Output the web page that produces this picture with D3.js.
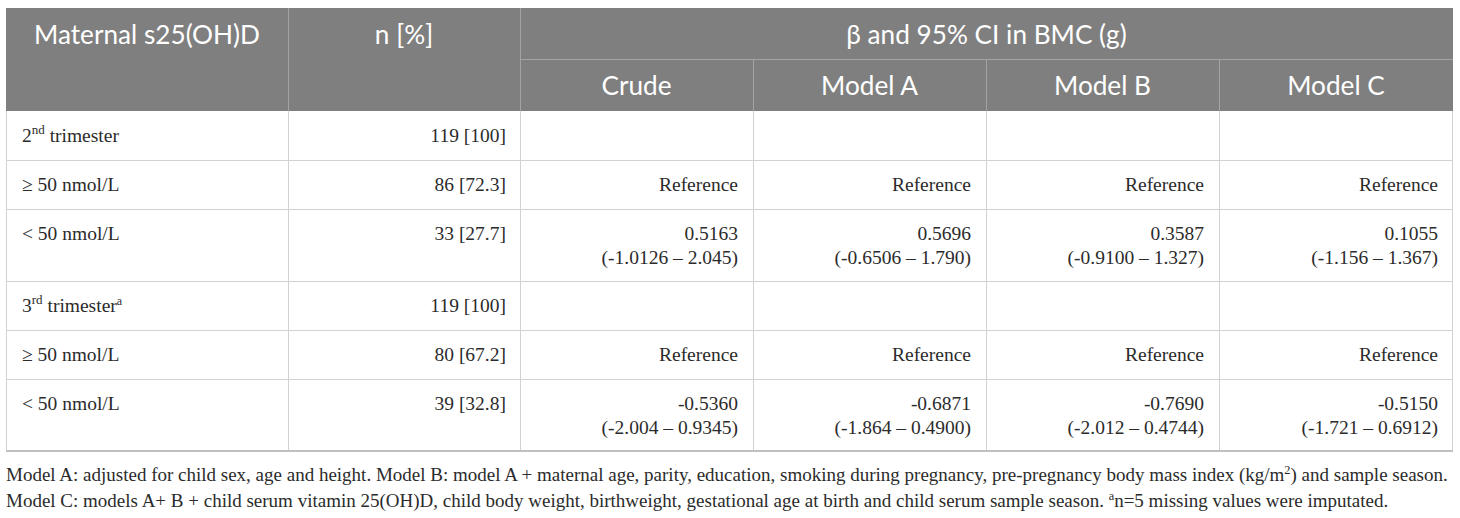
<!DOCTYPE html>
<html>
<head>
<meta charset="utf-8">
<script src="https://cdn.jsdelivr.net/npm/d3@7"></script>
<style>
  body { margin: 0; background: #fff; }
  svg { display: block; }
</style>
</head>
<body>
<svg id="table" width="1460" height="518"></svg>
<script>
// Table values
const rowLabels = [
  {main: "2", sup: "nd", rest: " trimester", tail: ""},
  {main: "\u2265 50 nmol/L"},
  {main: "< 50 nmol/L"},
  {main: "3", sup: "rd", rest: " trimester", tail: "a"},
  {main: "\u2265 50 nmol/L"},
  {main: "< 50 nmol/L"}
];
const nPercent = ["119 [100]", "86 [72.3]", "33 [27.7]", "119 [100]", "80 [67.2]", "39 [32.8]"];
const models = ["Crude", "Model A", "Model B", "Model C"];
// beta per row, per model ("" = empty cell)
const betaCrude  = ["", "Reference", "0.5163",  "", "Reference", "-0.5360"];
const betaModelA = ["", "Reference", "0.5696",  "", "Reference", "-0.6871"];
const betaModelB = ["", "Reference", "0.3587",  "", "Reference", "-0.7690"];
const betaModelC = ["", "Reference", "0.1055",  "", "Reference", "-0.5150"];
const ciCrude  = ["", "", "(-1.0126 \u2013 2.045)", "", "", "(-2.004 \u2013 0.9345)"];
const ciModelA = ["", "", "(-0.6506 \u2013 1.790)", "", "", "(-1.864 \u2013 0.4900)"];
const ciModelB = ["", "", "(-0.9100 \u2013 1.327)", "", "", "(-2.012 \u2013 0.4744)"];
const ciModelC = ["", "", "(-1.156 \u2013 1.367)",  "", "", "(-1.721 \u2013 0.6912)"];

const betas = [betaCrude, betaModelA, betaModelB, betaModelC];
const cis = [ciCrude, ciModelA, ciModelB, ciModelC];

// layout
const left = 6, right = 1453;
const colWidths = [282, 232, 233, 233, 233, 234];
const colEdges = [left, ...d3.cumsum(colWidths).map(d => left + d)];
const headTop = 8, headMid = 59, headBottom = 111;
const rowHeights = rowLabels.map((d, i) => ciCrude[i] ? 72 : 49);
const rowEdges = [headBottom, ...d3.cumsum(rowHeights).map(d => headBottom + d)];

const svg = d3.select("#table");
const headFont = "Lato, 'Open Sans', sans-serif";
const bodyFont = "'Liberation Serif', 'DejaVu Serif', serif";
const textCol = "#2b2b2b";
const bodySize = 19.5;

// size a font so that a sample string spans a given width
function fitSize(family, sample, width) {
  const t = svg.append("text").attr("font-family", family).attr("font-size", 100).text(sample);
  const w = t.node().getComputedTextLength();
  t.remove();
  return 100 * width / w;
}

// header background
svg.append("rect")
  .attr("x", left).attr("y", headTop)
  .attr("width", right - left).attr("height", headBottom - headTop)
  .attr("fill", "#7f7f7f");

// header lines
const hl = svg.append("g").attr("stroke", "#a3a3a3").attr("stroke-width", 1);
hl.append("line").attr("x1", colEdges[2]).attr("x2", right)
  .attr("y1", headMid + 0.5).attr("y2", headMid + 0.5);
[1, 2].forEach(i => hl.append("line")
  .attr("x1", colEdges[i] + 0.5).attr("x2", colEdges[i] + 0.5)
  .attr("y1", headTop).attr("y2", headBottom));
[3, 4, 5].forEach(i => hl.append("line")
  .attr("x1", colEdges[i] + 0.5).attr("x2", colEdges[i] + 0.5)
  .attr("y1", headMid).attr("y2", headBottom));

const headSize = fitSize(headFont, "Maternal s25(OH)D", 226);
const head = svg.append("g")
  .attr("font-family", headFont).attr("font-size", headSize)
  .attr("fill", "#fff").attr("text-anchor", "middle");
head.append("text").attr("x", (colEdges[0] + colEdges[1]) / 2).attr("y", 44).text("Maternal s25(OH)D");
head.append("text").attr("x", (colEdges[1] + colEdges[2]) / 2).attr("y", 44).text("n [%]");
head.append("text").attr("x", (colEdges[2] + right) / 2).attr("y", 44).text("\u03b2 and 95% CI in BMC (g)");
head.selectAll(".model").data(models).enter().append("text")
  .attr("class", "model")
  .attr("x", (d, i) => (colEdges[i + 2] + colEdges[i + 3]) / 2)
  .attr("y", 95)
  .text(d => d);

// body grid
const grid = svg.append("g").attr("stroke", "#d2d2d2").attr("stroke-width", 1);
rowEdges.slice(1, -1).forEach(y => grid.append("line")
  .attr("x1", left).attr("x2", right).attr("y1", y + 0.5).attr("y2", y + 0.5));
colEdges.forEach((x, i) => grid.append("line")
  .attr("x1", i === 6 ? right - 0.5 : x + 0.5).attr("x2", i === 6 ? right - 0.5 : x + 0.5)
  .attr("y1", headBottom).attr("y2", rowEdges[6]));
svg.append("line").attr("x1", left).attr("x2", right)
  .attr("y1", rowEdges[6]).attr("y2", rowEdges[6])
  .attr("stroke", "#c0c0c0").attr("stroke-width", 2);

// body text
const body = svg.append("g")
  .attr("font-family", bodyFont).attr("font-size", bodySize).attr("fill", textCol);

const labels = body.selectAll(".lab").data(rowLabels).enter().append("text")
  .attr("class", "lab")
  .attr("x", 22)
  .attr("y", (d, i) => rowEdges[i] + 31);
labels.append("tspan").text(d => d.main);
labels.filter(d => d.sup).append("tspan")
  .attr("font-size", 13).attr("dy", -8).text(d => d.sup);
labels.filter(d => d.sup).append("tspan")
  .attr("dy", 8).text(d => d.rest);
labels.filter(d => d.tail).append("tspan")
  .attr("font-size", 12).attr("dy", -7).text(d => d.tail);

body.selectAll(".n").data(nPercent).enter().append("text")
  .attr("class", "n").attr("text-anchor", "end")
  .attr("x", colEdges[2] - 14)
  .attr("y", (d, i) => rowEdges[i] + 31)
  .text(d => d);

models.forEach((m, j) => {
  const xr = colEdges[j + 3] - 15;
  body.selectAll(".b" + j).data(betas[j]).enter().append("text")
    .attr("class", "b" + j).attr("text-anchor", "end")
    .attr("x", xr).attr("y", (d, i) => rowEdges[i] + 31)
    .text(d => d);
  body.selectAll(".c" + j).data(cis[j]).enter().append("text")
    .attr("class", "c" + j).attr("text-anchor", "end")
    .attr("x", xr).attr("y", (d, i) => rowEdges[i] + 55)
    .text(d => d);
});

// footnotes
const foot1 = ["Model A: adjusted for child sex, age and height. Model B: model A + maternal age, parity, education, smoking during pregnancy, pre-pregnancy body mass index (kg/m", "2", ") and sample season."];
const foot2 = ["Model C: models A+ B + child serum vitamin 25(OH)D, child body weight, birthweight, gestational age at birth and child serum sample season. ", "a", "n=5 missing values were imputated."];
const footSize = fitSize(bodyFont, foot1[0] + foot1[2], 1436);
const foot = svg.append("g")
  .attr("font-family", bodyFont).attr("font-size", footSize).attr("fill", textCol);
[[foot1, 481], [foot2, 507]].forEach(([parts, y]) => {
  const t = foot.append("text").attr("x", left).attr("y", y);
  t.append("tspan").text(parts[0]);
  t.append("tspan").attr("font-size", footSize * 0.65).attr("dy", -7).text(parts[1]);
  t.append("tspan").attr("dy", 7).text(parts[2]);
});
</script>
</body>
</html>
